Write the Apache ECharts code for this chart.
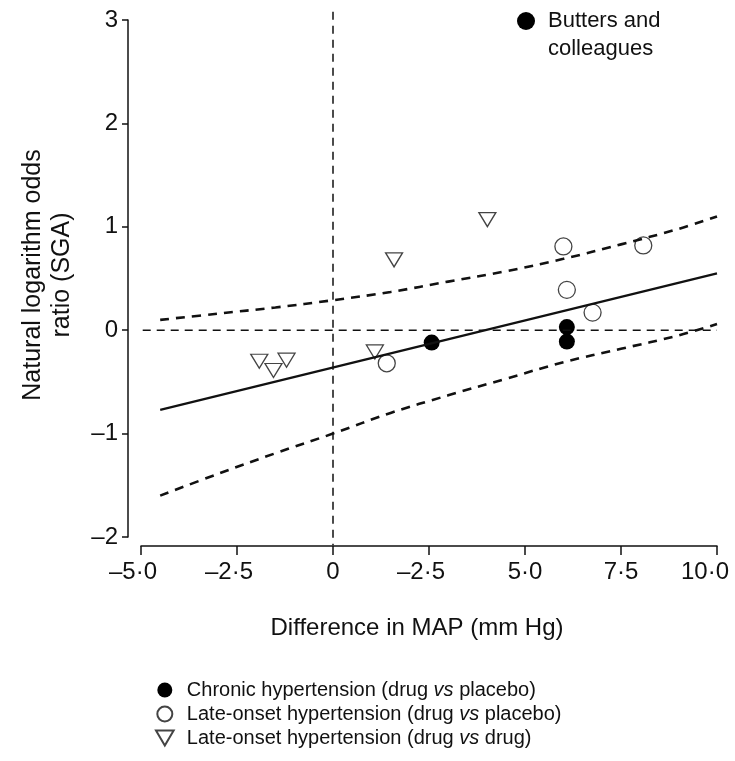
<!DOCTYPE html>
<html><head><meta charset="utf-8">
<script src="https://cdn.jsdelivr.net/npm/echarts@6/dist/echarts.min.js"></script>
<style>html,body{margin:0;padding:0;background:#fff;overflow:hidden}#c{width:735px;height:761px}</style>
</head><body><div id="c"></div>
<script>
// ---- data ----
const xTickLabels = ['–5·0', '–2·5', '0', '–2·5', '5·0', '7·5', '10·0'];
const yTickLabels = ['–2', '–1', '0', '1', '2', '3'];
const seriesNames = [
  'Chronic hypertension (drug vs placebo)',
  'Late-onset hypertension (drug vs placebo)',
  'Late-onset hypertension (drug vs drug)'
];
const chronicX = [2.57, 6.09, 6.09];
const chronicY = [-0.12, 0.03, -0.11];
const placeboX = [1.40, 6.00, 8.08, 6.09, 6.76];
const placeboY = [-0.32, 0.81, 0.82, 0.39, 0.17];
const drugX = [-1.92, -1.55, -1.21, 1.09, 1.59, 4.02];
const drugY = [-0.30, -0.39, -0.29, -0.21, 0.68, 1.07];
const fitX = [-4.5, 10];
const fitY = [-0.77, 0.55];
const ciX = [-4.5, -3, -1.5, 0, 1.5, 3, 4.5, 6, 7.5, 9, 10];
const ciUpper = [0.10, 0.16, 0.22, 0.29, 0.37, 0.47, 0.57, 0.69, 0.83, 0.98, 1.10];
const ciLower = [-1.60, -1.39, -1.19, -1.00, -0.80, -0.63, -0.47, -0.31, -0.18, -0.05, 0.06];
const vRefX = [0, 0];
const vRefY = [3.08, -2.08];
const hRefX = [-5.32, 10];
const hRefY = [0, 0];

const zip = (a, b) => a.map((v, i) => [v, b[i]]);
const FONT = 'Liberation Sans';
const INK = '#111';
const TRI_DOWN = 'path://M0,0 L20,0 L10,17 Z';

const chart = echarts.init(document.getElementById('c'), null, {renderer: 'canvas'});
chart.setOption({
  animation: false,
  backgroundColor: '#fff',
  grid: {left: 141, right: 18, top: 20, bottom: 224, containLabel: false, outerBoundsMode: 'none'},
  xAxis: {
    type: 'value', min: -5, max: 10, interval: 2.5, offset: 9,
    axisLine: {onZero: false, lineStyle: {color: INK, width: 1.5}},
    axisTick: {length: 9, lineStyle: {color: INK, width: 1.5}},
    splitLine: {show: false},
    axisLabel: {
      color: INK, fontFamily: FONT, fontSize: 24, margin: 14,
      formatter: (v) => {
        const t = xTickLabels[Math.round((v + 5) / 2.5)];
        if (v >= 10) return '{e|' + t + '}';
        if (t.charAt(0) === '–') return '{n|' + t + '}';
        return t;
      },
      rich: {
        n: {fontFamily: FONT, fontSize: 24, color: INK, padding: [0, 16, 0, 0]},
        e: {fontFamily: FONT, fontSize: 24, color: INK, padding: [0, 24, 0, 0]}
      }
    }
  },
  yAxis: {
    type: 'value', min: -2, max: 3, interval: 1, offset: 13,
    axisLine: {onZero: false, lineStyle: {color: INK, width: 1.5}},
    axisTick: {length: 6, lineStyle: {color: INK, width: 1.5}},
    splitLine: {show: false},
    axisLabel: {
      color: INK, fontFamily: FONT, fontSize: 24, margin: 10,
      formatter: (v) => yTickLabels[Math.round(v + 2)]
    }
  },
  legend: {
    orient: 'vertical', left: 150, top: 675, itemGap: 4,
    itemWidth: 34, itemHeight: 15,
    data: [
      {name: seriesNames[0], icon: 'circle'},
      {name: seriesNames[1], icon: 'circle'},
      {name: seriesNames[2], icon: TRI_DOWN}
    ],
    formatter: (n) => n.replace(' vs ', ' {i|vs} '),
    textStyle: {
      color: INK, fontFamily: FONT, fontSize: 20,
      rich: {i: {fontStyle: 'italic', fontFamily: FONT, fontSize: 20, color: INK}}
    }
  },
  graphic: [
    {
      type: 'text', x: 33, y: 275, rotation: Math.PI / 2,
      style: {text: 'Natural logarithm odds', fill: INK, font: '25px "Liberation Sans"', align: 'center', verticalAlign: 'middle'}
    },
    {
      type: 'text', x: 62, y: 275, rotation: Math.PI / 2,
      style: {text: 'ratio (SGA)', fill: INK, font: '25px "Liberation Sans"', align: 'center', verticalAlign: 'middle'}
    },
    {
      type: 'text', x: 417, y: 628,
      style: {text: 'Difference in MAP (mm Hg)', fill: INK, font: '24px "Liberation Sans"', align: 'center', verticalAlign: 'middle'}
    },
    {type: 'circle', shape: {cx: 526, cy: 21, r: 9}, style: {fill: '#000'}},
    {
      type: 'text', x: 548, y: 21,
      style: {text: 'Butters and', fill: INK, font: '22px "Liberation Sans"', align: 'left', verticalAlign: 'middle'}
    },
    {
      type: 'text', x: 548, y: 49,
      style: {text: 'colleagues', fill: INK, font: '22px "Liberation Sans"', align: 'left', verticalAlign: 'middle'}
    }
  ],
  series: [
    {
      type: 'line', data: zip(vRefX, vRefY), symbol: 'none', clip: false, silent: true,
      lineStyle: {color: INK, width: 1.5, type: [8, 6]}
    },
    {
      type: 'line', data: zip(hRefX, hRefY), symbol: 'none', clip: false, silent: true,
      lineStyle: {color: INK, width: 1.5, type: [8, 6]}
    },
    {
      type: 'line', data: zip(ciX, ciUpper), symbol: 'none', smooth: 0.4, silent: true,
      lineStyle: {color: INK, width: 2.6, type: [9, 7]}
    },
    {
      type: 'line', data: zip(ciX, ciLower), symbol: 'none', smooth: 0.4, silent: true,
      lineStyle: {color: INK, width: 2.6, type: [9, 7]}
    },
    {
      type: 'line', data: zip(fitX, fitY), symbol: 'none', silent: true,
      lineStyle: {color: INK, width: 2.2}
    },
    {
      name: seriesNames[2], type: 'scatter', data: zip(drugX, drugY),
      symbol: TRI_DOWN, symbolSize: [17, 14],
      itemStyle: {color: '#fff', borderColor: '#444', borderWidth: 1.3, opacity: 1}
    },
    {
      name: seriesNames[1], type: 'scatter', data: zip(placeboX, placeboY),
      symbol: 'circle', symbolSize: 17,
      itemStyle: {color: '#fff', borderColor: '#444', borderWidth: 1.3, opacity: 1}
    },
    {
      name: seriesNames[0], type: 'scatter', data: zip(chronicX, chronicY),
      symbol: 'circle', symbolSize: 16,
      itemStyle: {color: '#000', borderColor: '#000', borderWidth: 0, opacity: 1}
    }
  ]
});
</script></body></html>
